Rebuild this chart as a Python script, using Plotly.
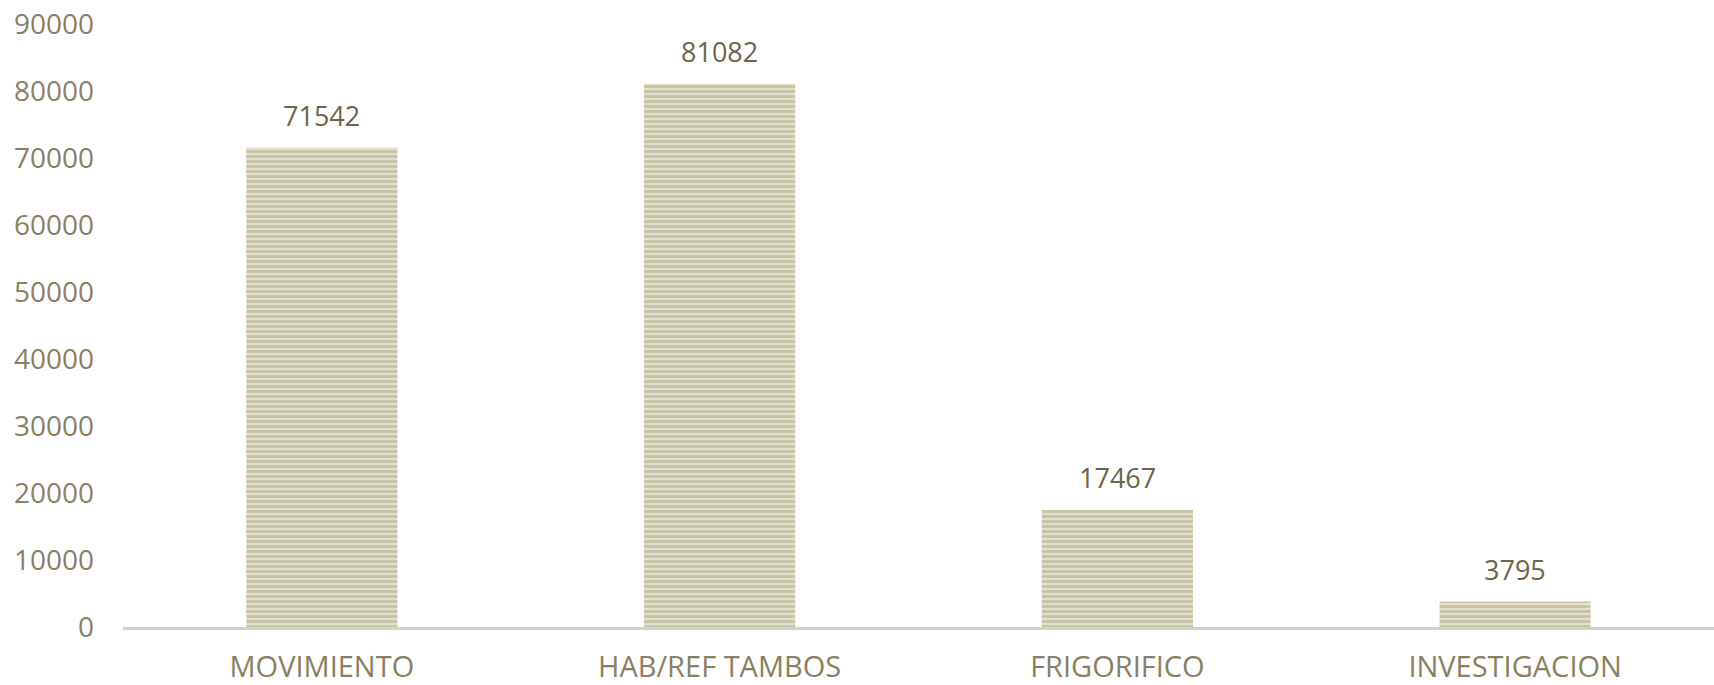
import plotly.graph_objects as go

categories = ["MOVIMIENTO", "HAB/REF TAMBOS", "FRIGORIFICO", "INVESTIGACION"]
values = [71542, 81082, 17467, 3795]
y_ticks = [0, 10000, 20000, 30000, 40000, 50000, 60000, 70000, 80000, 90000]

fig = go.Figure(go.Bar(
    x=categories, y=values,
    cliponaxis=False,
    marker=dict(
        color="#e2e0cf",
        line=dict(width=0),
        pattern=dict(shape="-", fgcolor="#a8a37d", bgcolor="#e2e0cf", size=5, solidity=0.55),
    ),
))

for c, v in zip(categories, values):
    fig.add_annotation(
        x=c, y=v, text=str(v), showarrow=False,
        yanchor="middle", yshift=32,
        font=dict(family="Open Sans", size=27, color="#6e6449"),
    )

fig.update_layout(
    width=1714, height=685,
    margin=dict(l=123, r=0, t=24, b=58),
    paper_bgcolor="white", plot_bgcolor="white",
    bargap=0.62,
    showlegend=False,
    font=dict(family="Open Sans", color="#8a7f62"),
)
fig.update_yaxes(
    range=[0, 90000], tickvals=y_ticks, ticktext=[str(t) for t in y_ticks],
    showgrid=False, zeroline=False, showline=False,
    tickfont=dict(size=28, color="#8a7f62"),
    ticklabelstandoff=28, automargin=False,
)
fig.update_xaxes(
    showline=True, linecolor="#d6d2c2", linewidth=3,
    tickfont=dict(size=29, color="#8a7f62"),
    ticklabelstandoff=12, automargin=False,
)

fig.write_html(
    "out.html",
    config={"displayModeBar": False},
    post_script="document.body.style.margin='0';document.body.style.overflow='hidden';",
)
